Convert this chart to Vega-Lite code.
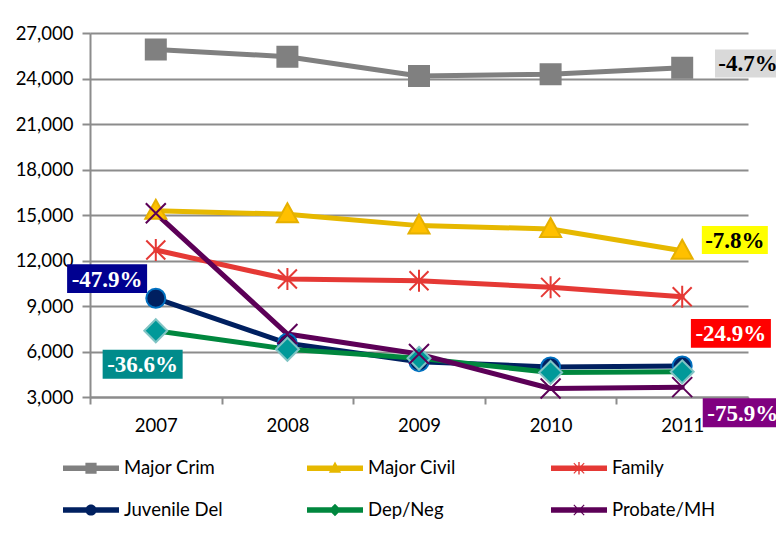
{
  "$schema": "https://vega.github.io/schema/vega-lite/v6.json",
  "width": 658,
  "height": 364,
  "autosize": {"type": "none"},
  "padding": {"left": 90, "top": 33, "right": 28, "bottom": 155},
  "background": "#ffffff",
  "config": {"view": {"stroke": null}, "font": "Lato"},
  "datasets": {
    "counts": [
      {"series": "Major Crim", "year": 2007, "value": 25920},
      {"series": "Major Crim", "year": 2008, "value": 25440},
      {"series": "Major Crim", "year": 2009, "value": 24160},
      {"series": "Major Crim", "year": 2010, "value": 24280},
      {"series": "Major Crim", "year": 2011, "value": 24710},
      {"series": "Major Civil", "year": 2007, "value": 15280},
      {"series": "Major Civil", "year": 2008, "value": 15050},
      {"series": "Major Civil", "year": 2009, "value": 14300},
      {"series": "Major Civil", "year": 2010, "value": 14080},
      {"series": "Major Civil", "year": 2011, "value": 12640},
      {"series": "Family", "year": 2007, "value": 12690},
      {"series": "Family", "year": 2008, "value": 10780},
      {"series": "Family", "year": 2009, "value": 10670},
      {"series": "Family", "year": 2010, "value": 10230},
      {"series": "Family", "year": 2011, "value": 9610},
      {"series": "Juvenile Del", "year": 2007, "value": 9510},
      {"series": "Juvenile Del", "year": 2008, "value": 6540},
      {"series": "Juvenile Del", "year": 2009, "value": 5330},
      {"series": "Juvenile Del", "year": 2010, "value": 4980},
      {"series": "Juvenile Del", "year": 2011, "value": 5050},
      {"series": "Dep/Neg", "year": 2007, "value": 7370},
      {"series": "Dep/Neg", "year": 2008, "value": 6150},
      {"series": "Dep/Neg", "year": 2009, "value": 5550},
      {"series": "Dep/Neg", "year": 2010, "value": 4620},
      {"series": "Dep/Neg", "year": 2011, "value": 4660},
      {"series": "Probate/MH", "year": 2007, "value": 15110},
      {"series": "Probate/MH", "year": 2008, "value": 7150},
      {"series": "Probate/MH", "year": 2009, "value": 5830},
      {"series": "Probate/MH", "year": 2010, "value": 3560},
      {"series": "Probate/MH", "year": 2011, "value": 3650}
    ],
    "labels": [
      {"label": "-4.7%", "year": 2011.5, "value": 24990},
      {"label": "-7.8%", "year": 2011.4, "value": 13350},
      {"label": "-24.9%", "year": 2011.37, "value": 7190},
      {"label": "-75.9%", "year": 2011.46, "value": 1960},
      {"label": "-47.9%", "year": 2006.63, "value": 10800},
      {"label": "-36.6%", "year": 2006.9, "value": 5160}
    ]
  },
  "encoding": {
    "x": {
      "field": "year",
      "type": "quantitative",
      "scale": {"domain": [2006.5, 2011.5], "nice": false, "zero": false},
      "axis": {
        "title": null,
        "values": [2006.5, 2007.5, 2008.5, 2009.5, 2010.5, 2011.5],
        "labelExpr": "datum.value < 2011 ? format(datum.value + 0.5, 'd') : ''",
        "labelOffset": 65.8,
        "labelFlush": false,
        "labelOverlap": false,
        "labelBound": false,
        "grid": false,
        "ticks": true,
        "tickSize": 7,
        "tickWidth": 2,
        "tickColor": "#8C8C8C",
        "domainColor": "#8C8C8C",
        "domainWidth": 2,
        "labelFont": "Lato",
        "labelFontSize": 18.5,
        "labelColor": "#000000",
        "labelPadding": 12
      }
    },
    "y": {
      "field": "value",
      "type": "quantitative",
      "scale": {"domain": [3000, 27000], "nice": false, "zero": false},
      "axis": {
        "title": null,
        "values": [3000, 6000, 9000, 12000, 15000, 18000, 21000, 24000, 27000],
        "format": ",.0f",
        "grid": true,
        "gridColor": "#8C8C8C",
        "gridWidth": 2,
        "tickSize": 8,
        "tickWidth": 2,
        "tickColor": "#8C8C8C",
        "domainColor": "#8C8C8C",
        "domainWidth": 2,
        "labelFont": "Lato",
        "labelFontSize": 18.5,
        "labelColor": "#000000",
        "labelPadding": 9
      }
    }
  },
  "layer": [
    {
      "data": {"name": "counts"},
      "mark": {"type": "line", "strokeWidth": 5, "strokeJoin": "round", "strokeCap": "round"},
      "encoding": {
        "color": {
          "field": "series",
          "type": "nominal",
          "scale": {
            "domain": ["Major Crim", "Major Civil", "Family", "Juvenile Del", "Dep/Neg", "Probate/MH"],
            "range": ["#808080", "#E6B800", "#E53935", "#002060", "#00873E", "#5C0057"]
          },
          "legend": null
        }
      }
    },
    {
      "data": {"name": "counts"},
      "mark": {"type": "point", "opacity": 1, "size": 400, "strokeWidth": 2},
      "encoding": {
        "shape": {
          "field": "series",
          "type": "nominal",
          "scale": {
            "domain": ["Major Crim", "Major Civil", "Family", "Juvenile Del", "Dep/Neg", "Probate/MH"],
            "range": [
              "M-1,-1H1V1H-1Z",
              "M0,-1.1L1.05,0.8H-1.05Z",
              "M-0.95,-0.95L0.95,0.95M-0.95,0.95L0.95,-0.95M0,-1.1V1.1",
              "M-0.95,0A0.95,0.95 0 1,1 0.95,0A0.95,0.95 0 1,1 -0.95,0Z",
              "M0,-1.15L1.15,0L0,1.15L-1.15,0Z",
              "M-1,-1L1,1M-1,1L1,-1"
            ]
          },
          "legend": null
        },
        "fill": {
          "field": "series",
          "type": "nominal",
          "scale": {
            "domain": ["Major Crim", "Major Civil", "Family", "Juvenile Del", "Dep/Neg", "Probate/MH"],
            "range": ["#808080", "#FFC000", "transparent", "#002060", "#009999", "transparent"]
          },
          "legend": null
        },
        "stroke": {
          "field": "series",
          "type": "nominal",
          "scale": {
            "domain": ["Major Crim", "Major Civil", "Family", "Juvenile Del", "Dep/Neg", "Probate/MH"],
            "range": ["#808080", "#E6B000", "#E53935", "#0070C0", "#80C4C4", "#5C0057"]
          },
          "legend": null
        }
      }
    },
    {
      "data": {"name": "counts"},
      "mark": {"type": "point", "opacity": 0, "filled": true, "strokeWidth": 0},
      "encoding": {
        "shape": {
          "field": "series",
          "type": "nominal",
          "scale": {
            "domain": ["Major Crim", "Major Civil", "Family", "Juvenile Del", "Dep/Neg", "Probate/MH"],
            "range": [
              "M-1,-0.1H1V0.1H-1Z M-0.2,-0.2H0.2V0.2H-0.2Z",
              "M-1,-0.1H1V0.1H-1Z M0,-0.24L0.22,0.16H-0.22Z",
              "M-1,-0.1H1V0.1H-1Z M-0.2,-0.17L-0.17,-0.2L0,-0.03L0.17,-0.2L0.2,-0.17L0.03,0L0.2,0.17L0.17,0.2L0,0.03L-0.17,0.2L-0.2,0.17L-0.03,0Z M-0.025,-0.22H0.025V0.22H-0.025Z",
              "M-1,-0.1H1V0.1H-1Z M-0.2,0A0.2,0.2 0 1,1 0.2,0A0.2,0.2 0 1,1 -0.2,0Z",
              "M-1,-0.1H1V0.1H-1Z M0,-0.22L0.22,0L0,0.22L-0.22,0Z",
              "M-1,-0.1H1V0.1H-1Z M-0.2,-0.17L-0.17,-0.2L0,-0.03L0.17,-0.2L0.2,-0.17L0.03,0L0.2,0.17L0.17,0.2L0,0.03L-0.17,0.2L-0.2,0.17L-0.03,0Z"
            ]
          },
          "legend": {
            "title": null, "orient": "none", "legendX": -27, "legendY": 407,
            "direction": "horizontal",
            "columns": 3, "columnPadding": 79, "rowPadding": 4, "gridAlign": "all",
            "symbolSize": 3136, "symbolStrokeWidth": 0, "symbolOpacity": 1,
            "labelFont": "Lato", "labelFontSize": 18.5, "labelColor": "#000000",
            "labelOffset": 5, "padding": 0
          }
        },
        "fill": {
          "field": "series",
          "type": "nominal",
          "scale": {
            "domain": ["Major Crim", "Major Civil", "Family", "Juvenile Del", "Dep/Neg", "Probate/MH"],
            "range": ["#808080", "#E6B800", "#E53935", "#002060", "#00873E", "#5C0057"]
          },
          "legend": {
            "title": null, "orient": "none", "legendX": -27, "legendY": 407,
            "direction": "horizontal",
            "columns": 3, "columnPadding": 79, "rowPadding": 4, "gridAlign": "all",
            "symbolSize": 3136, "symbolStrokeWidth": 0, "symbolOpacity": 1,
            "labelFont": "Lato", "labelFontSize": 18.5, "labelColor": "#000000",
            "labelOffset": 5, "padding": 0
          }
        }
      }
    },
    {
      "data": {"name": "labels"},
      "mark": {"type": "point", "opacity": 1, "filled": true, "size": 6400, "strokeWidth": 0},
      "encoding": {
        "shape": {
          "field": "label",
          "type": "nominal",
          "scale": {
            "domain": ["-4.7%", "-7.8%", "-24.9%", "-75.9%", "-47.9%", "-36.6%"],
            "range": [
              "M-0.825,-0.35H0.825V0.35H-0.825Z",
              "M-0.825,-0.35H0.825V0.35H-0.825Z",
              "M-1,-0.36H1V0.36H-1Z",
              "M-1,-0.36H1V0.36H-1Z",
              "M-1,-0.36H1V0.36H-1Z",
              "M-1,-0.36H1V0.36H-1Z"
            ]
          },
          "legend": null
        },
        "fill": {
          "field": "label",
          "type": "nominal",
          "scale": {
            "domain": ["-4.7%", "-7.8%", "-24.9%", "-75.9%", "-47.9%", "-36.6%"],
            "range": ["#D9D9D9", "#FFFF00", "#FF0000", "#800080", "#000090", "#008B8B"]
          },
          "legend": null
        }
      }
    },
    {
      "data": {"name": "labels"},
      "mark": {"type": "text", "font": "Liberation Serif", "fontWeight": "bold", "fontSize": 23, "align": "center", "baseline": "middle", "dy": 1},
      "encoding": {
        "text": {"field": "label", "type": "nominal"},
        "color": {
          "field": "label",
          "type": "nominal",
          "scale": {
            "domain": ["-4.7%", "-7.8%", "-24.9%", "-75.9%", "-47.9%", "-36.6%"],
            "range": ["#000000", "#000000", "#FFFFFF", "#FFFFFF", "#FFFFFF", "#FFFFFF"]
          },
          "legend": null
        }
      }
    }
  ],
  "resolve": {
    "scale": {"color": "independent", "fill": "independent", "shape": "independent", "stroke": "independent"}
  }
}
